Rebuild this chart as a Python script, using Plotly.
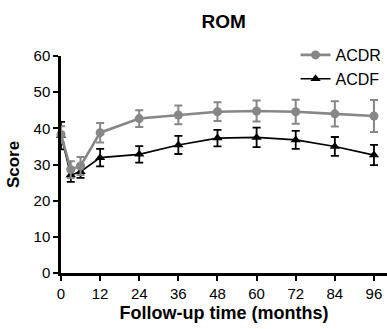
import plotly.graph_objects as go

months = [0, 3, 6, 12, 24, 36, 48, 60, 72, 84, 96]
acdr = [38.3, 28.6, 29.6, 38.8, 42.7, 43.7, 44.6, 44.8, 44.6, 44.0, 43.4]
acdr_err = [2.3, 2.3, 2.5, 2.7, 2.3, 2.6, 2.6, 2.9, 3.3, 3.5, 4.4]
acdf = [38.0, 27.1, 28.0, 31.9, 32.8, 35.4, 37.3, 37.5, 36.8, 35.0, 32.6]
acdf_err = [3.8, 1.9, 1.7, 2.4, 2.3, 2.5, 2.3, 2.7, 2.5, 2.6, 2.8]
x_ticks = [0, 12, 24, 36, 48, 60, 72, 84, 96]
y_ticks = [0, 10, 20, 30, 40, 50, 60]

GRAY = "#878787"
FONT = "Liberation Sans, Arial, sans-serif"

fig = go.Figure()
fig.add_trace(go.Scatter(
    x=months, y=acdf, name="ACDF", mode="lines+markers",
    line=dict(color="black", width=1.6),
    marker=dict(symbol="triangle-up", size=9, color="black"),
    error_y=dict(type="data", array=acdf_err, color="black", thickness=1.8, width=4),
    cliponaxis=False,
))
fig.add_trace(go.Scatter(
    x=months, y=acdr, name="ACDR", mode="lines+markers",
    line=dict(color=GRAY, width=2.6),
    marker=dict(symbol="circle", size=9, color=GRAY),
    error_y=dict(type="data", array=acdr_err, color=GRAY, thickness=2, width=4),
    cliponaxis=False,
))

fig.update_layout(
    width=387, height=329,
    margin=dict(l=61, r=0, t=56, b=56, autoexpand=False),
    paper_bgcolor="white", plot_bgcolor="white",
    font=dict(family=FONT, color="black"),
    title=dict(text="<b>ROM</b>", x=0.578, xanchor="center", y=1 - 21 / 329, yanchor="middle",
               yref="container", font=dict(size=19, family=FONT, color="black")),
    legend=dict(x=0.7195, xanchor="left", y=1.083, yanchor="top",
                traceorder="reversed", font=dict(size=16, family=FONT, color="black"),
                bgcolor="rgba(0,0,0,0)", itemwidth=30, tracegroupgap=0),
    showlegend=True,
)
fig.update_xaxes(
    range=[0, 100], tickvals=x_ticks, ticktext=[str(v) for v in x_ticks],
    showline=True, linecolor="black", linewidth=2.5, mirror=False,
    ticks="outside", ticklen=5, tickwidth=2, tickcolor="black",
    showgrid=False, zeroline=False, automargin=False,
    tickfont=dict(size=15, family=FONT, color="black"),
    title=dict(text="<b>Follow-up time (months)</b>", font=dict(size=18, family=FONT, color="black"), standoff=6),
)
fig.update_yaxes(
    range=[0, 60], tickvals=y_ticks, ticktext=[str(v) for v in y_ticks],
    showline=True, linecolor="black", linewidth=2.5, mirror=False,
    ticks="outside", ticklen=5, tickwidth=2, tickcolor="black",
    showgrid=False, zeroline=False, automargin=False,
    tickfont=dict(size=15, family=FONT, color="black"),
    title=dict(text="<b>Score</b>", font=dict(size=17, family=FONT, color="black"), standoff=10),
)
fig.update_xaxes(tickprefix="<b>", ticksuffix="</b>")
fig.update_yaxes(tickprefix="<b>", ticksuffix="</b>")

fig.write_html(
    "out.html",
    config={"displayModeBar": False},
    post_script="document.body.style.margin='0';document.body.style.overflow='hidden';",
)
